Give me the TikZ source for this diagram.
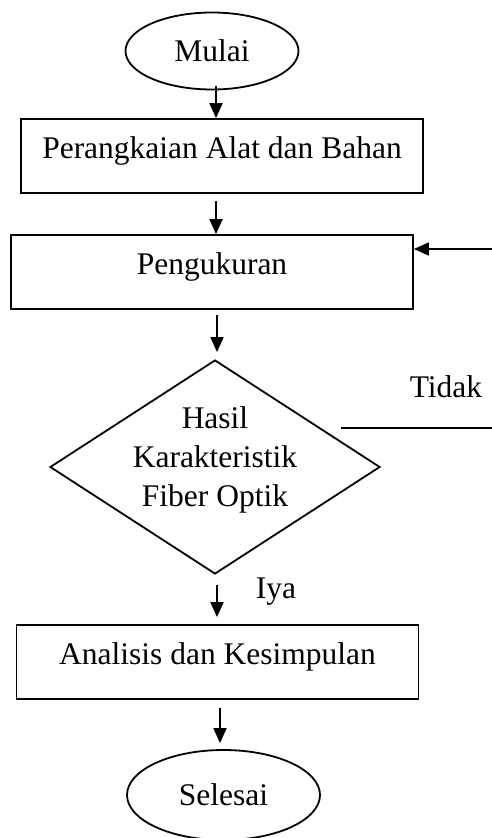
\documentclass[tikz,border=0pt]{standalone}
\usepackage{fontspec}
\setmainfont{Liberation Serif}
\usetikzlibrary{shapes.geometric,arrows.meta}
\begin{document}
\begin{tikzpicture}[x=1pt,y=-1pt,
  every node/.style={font=\fontsize{31.5}{39}\selectfont},
  ln/.style={line width=1.8pt},
  arr/.style={line width=1.8pt,-{Triangle[length=15pt,width=13pt]}},
  term/.style={ellipse,draw,line width=1.8pt,inner sep=0pt},
  proc/.style={rectangle,draw,line width=1.8pt,minimum width=402pt,minimum height=74pt,inner sep=0pt,text height=19pt,text depth=14pt},
  dec/.style={diamond,draw,line width=1.8pt,minimum width=330pt,minimum height=214pt,inner sep=0pt}
]
\useasboundingbox (0,0) rectangle (492,838);

\node[term,minimum width=173pt,minimum height=77pt] (mulai) at (212,51) {Mulai};
\node[proc] (box1) at (222,156) {Perangkaian Alat dan Bahan};
\node[proc] (box2) at (212,272) {Pengukuran};
\node[dec] (dia) at (215,467) {};
\node[align=center,inner sep=0pt] (diatext) at (215,460) {Hasil\\Karakteristik\\Fiber Optik};
\node[proc] (box3) at (217.5,662) {Analisis dan Kesimpulan};
\node[term,minimum width=193pt,minimum height=90pt] (selesai) at (223.5,795) {Selesai};

\node[anchor=base,inner sep=0pt] (tidak) at (446,397) {Tidak};
\node[anchor=base,inner sep=0pt] (iya) at (276,598) {Iya};

\coordinate (fb) at (492,249);
\coordinate (tidakL) at (341,428);
\coordinate (tidakR) at (492,428);

\draw[arr] ([xshift=4pt,yshift=4pt]mulai.south) -- ([xshift=4pt]mulai.south |- box1.north);
\draw[arr] ([xshift=-6pt,yshift=-7pt]box1.south) -- ([xshift=-6pt]box1.south |- box2.north);
\draw[arr] ([xshift=5pt,yshift=-5pt]box2.south) -- ([xshift=2pt,yshift=7pt]dia.north);
\draw[arr] ([xshift=2pt,yshift=-10pt]dia.south) -- ([xshift=-0.5pt,yshift=7pt]box3.north);
\draw[arr] ([xshift=2.5pt,yshift=-8pt]box3.south) -- ([xshift=-3.5pt,yshift=6pt]selesai.north);
\draw[arr] (fb) -- (fb -| box2.east);
\draw[ln] (tidakL) -- (tidakR);
\end{tikzpicture}
\end{document}
